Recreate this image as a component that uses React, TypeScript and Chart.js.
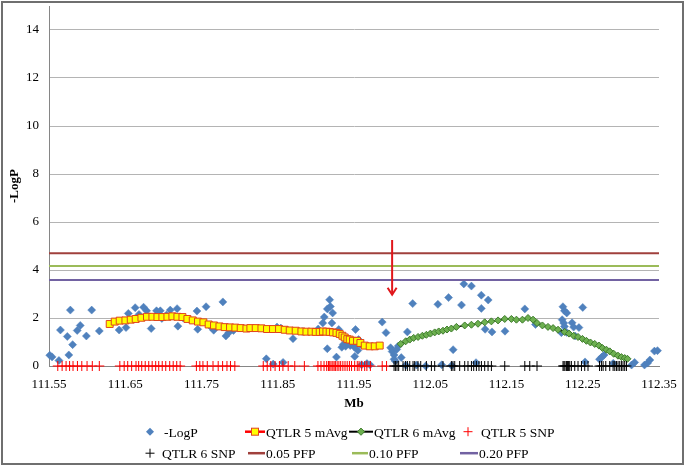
import { useEffect, useRef } from 'react';
import { Chart, registerables } from 'chart.js';

Chart.register(...registerables);

const FONT = '"Liberation Serif", "Times New Roman", serif';

// Axis definition
const xMin = 111.55;
const xMax = 112.35;
const yMin = 0;
const yMax = 15;
const xTickValues = [111.55, 111.65, 111.75, 111.85, 111.95, 112.05, 112.15, 112.25, 112.35];
const xTickLabels = ['111.55', '111.65', '111.75', '111.85', '111.95', '112.05', '112.15', '112.25', '112.35'];
const yTickValues = [0, 2, 4, 6, 8, 10, 12, 14];
const yTickLabels = ['0', '2', '4', '6', '8', '10', '12', '14'];

const seriesNames = ['-LogP', 'QTLR 5 mAvg', 'QTLR 6 mAvg', 'QTLR 5 SNP', 'QTLR 6 SNP', '0.05 PFP', '0.10 PFP', '0.20 PFP'];

// -LogP scatter
const logPMb = [
  111.551, 111.554, 111.563, 111.565, 111.574, 111.576, 111.578, 111.581, 111.587, 111.591,
  111.599, 111.606, 111.616, 111.642, 111.651, 111.654, 111.663, 111.668, 111.674, 111.678,
  111.684, 111.691, 111.696, 111.698, 111.704, 111.709, 111.718, 111.719, 111.726, 111.744,
  111.745, 111.756, 111.762, 111.766, 111.778, 111.782, 111.786, 111.792, 111.835, 111.844,
  111.849, 111.854, 111.857, 111.870, 111.882, 111.903, 111.909, 111.911, 111.915, 111.918,
  111.919, 111.922, 111.915, 111.921, 111.927, 111.930, 111.934, 111.936, 111.939, 111.942,
  111.945, 111.948, 111.950, 111.951, 111.952, 111.955, 111.956, 111.958, 111.960, 111.967,
  111.971, 111.987, 111.992, 111.998, 112.000, 112.0025, 112.0025, 112.004, 112.006, 112.008,
  112.012, 112.020, 112.027, 112.018, 112.032, 112.044, 112.060, 112.065, 112.074, 112.078,
  112.080, 112.091, 112.094, 112.104, 112.110, 112.117, 112.117, 112.126, 112.122, 112.131,
  112.148, 112.174, 112.188, 112.222, 112.223, 112.224, 112.225, 112.226, 112.226, 112.229,
  112.229, 112.236, 112.238, 112.240, 112.245, 112.250, 112.253, 112.272, 112.275, 112.278,
  112.290, 112.314, 112.318, 112.331, 112.335, 112.338, 112.344, 112.348,
];
const logPValue = [
  0.45, 0.38, 0.23, 1.50, 1.23, 0.46, 2.33, 0.89, 1.48, 1.69,
  1.25, 2.33, 1.46, 1.50, 1.60, 2.19, 2.43, 2.15, 2.45, 2.30,
  1.56, 2.30, 2.30, 1.98, 2.12, 2.33, 2.39, 1.66, 2.00, 2.29,
  1.53, 2.47, 1.64, 1.49, 2.67, 1.25, 1.40, 1.48, 0.30, 0.08,
  1.62, 1.58, 0.15, 1.14, 1.44, 1.54, 1.79, 2.04, 2.38, 2.76,
  2.48, 2.21, 0.72, 1.79, 0.37, 1.52, 0.78, 0.90, 0.82, 0.95,
  0.85, 1.05, 0.80, 0.40, 1.52, 0.65, 1.10, 0.90, 0.05, 0.10,
  0.05, 1.83, 1.39, 0.76, 0.60, 0.46, 0.28, 0.21, 0.69, 0.83,
  0.35, 1.42, 2.60, 0.03, 0.04, 0.00, 2.57, 0.05, 2.85, 0.02,
  0.68, 2.54, 3.42, 3.33, 0.14, 2.95, 2.40, 2.75, 1.53, 1.42,
  1.45, 2.38, 1.73, 1.39, 1.93, 2.47, 1.79, 2.30, 1.65, 2.21,
  1.40, 1.80, 1.62, 1.25, 1.60, 2.44, 0.17, 0.28, 0.37, 0.46,
  0.11, 0.04, 0.15, 0.04, 0.12, 0.25, 0.62, 0.64,
];

// QTLR 5 moving average
const qtlr5Mb = [
  111.6296, 111.6362, 111.6427, 111.6502, 111.6572, 111.6637, 111.6712, 111.6785, 111.6856, 111.6922,
  111.6987, 111.7053, 111.7118, 111.7184, 111.7250, 111.7315, 111.7385, 111.7454, 111.7525, 111.7594,
  111.7664, 111.7735, 111.7804, 111.7874, 111.7944, 111.8014, 111.8089, 111.8141, 111.8211, 111.8286,
  111.8359, 111.8438, 111.8517, 111.8591, 111.8657, 111.8735, 111.8810, 111.8876, 111.8941, 111.8998,
  111.9050, 111.9094, 111.9138, 111.9181, 111.9225, 111.9270, 111.9313, 111.9348, 111.9378, 111.9413,
  111.9444, 111.9487, 111.9540, 111.9584, 111.9641, 111.9706, 111.9772, 111.9837,
];
const qtlr5Avg = [
  1.75, 1.85, 1.89, 1.90, 1.93, 1.96, 2.01, 2.05, 2.05, 2.04,
  2.04, 2.05, 2.07, 2.05, 2.04, 1.96, 1.90, 1.85, 1.82, 1.73,
  1.69, 1.65, 1.62, 1.61, 1.60, 1.58, 1.56, 1.58, 1.58, 1.57,
  1.54, 1.54, 1.54, 1.51, 1.48, 1.47, 1.44, 1.43, 1.43, 1.42,
  1.42, 1.44, 1.43, 1.42, 1.40, 1.38, 1.33, 1.26, 1.19, 1.12,
  1.10, 1.05, 1.05, 0.96, 0.85, 0.82, 0.82, 0.85,
];

// QTLR 6 moving average
const qtlr6Mb = [
  112.0113, 112.0178, 112.0231, 112.0283, 112.0340, 112.0397, 112.0449, 112.0502, 112.0558, 112.0611,
  112.0667, 112.0720, 112.0777, 112.0843, 112.0952, 112.1040, 112.1126, 112.1214, 112.1302, 112.1389,
  112.1477, 112.1564, 112.1630, 112.1709, 112.1782, 112.1848, 112.1900, 112.1971, 112.2044, 112.2111,
  112.2176, 112.2263, 112.2320, 112.2381, 112.2438, 112.2496, 112.2548, 112.2601, 112.2657, 112.2713,
  112.2758, 112.2810, 112.2854, 112.2906, 112.2962, 112.3007, 112.3050, 112.3086,
];
const qtlr6Avg = [
  0.92, 1.03, 1.10, 1.17, 1.21, 1.26, 1.30, 1.35, 1.40, 1.44,
  1.47, 1.52, 1.56, 1.63, 1.69, 1.72, 1.76, 1.82, 1.86, 1.90,
  1.96, 1.96, 1.93, 1.93, 2.00, 1.93, 1.79, 1.69, 1.63, 1.58,
  1.51, 1.42, 1.35, 1.26, 1.21, 1.13, 1.05, 0.98, 0.92, 0.85,
  0.75, 0.68, 0.61, 0.51, 0.43, 0.37, 0.33, 0.30,
];

// SNP positions (plotted at -LogP = 0)
const snpLevel = 0;
const qtlr5SnpMb = [
  111.5615, 111.5672, 111.5724, 111.5770, 111.5815, 111.5873, 111.5930, 111.5999, 111.6068, 111.6160,
  111.6429, 111.6486, 111.6532, 111.6584, 111.6641, 111.6676, 111.6716, 111.6762, 111.6808, 111.6853,
  111.6899, 111.6939, 111.6985, 111.7031, 111.7083, 111.7129, 111.7175, 111.7220, 111.7433, 111.7478,
  111.7519, 111.7576, 111.7651, 111.7719, 111.7777, 111.7834, 111.7880, 111.7937, 111.8310, 111.8362,
  111.8408, 111.8465, 111.8522, 111.8568, 111.8637, 111.8723, 111.8849, 111.9027, 111.9067, 111.9107,
  111.9142, 111.9165, 111.9182, 111.9199, 111.9222, 111.9239, 111.9256, 111.9279, 111.9302, 111.9325,
  111.9354, 111.9382, 111.9411, 111.9440, 111.9468, 111.9509, 111.9543, 111.9566, 111.9600, 111.9640,
  111.9669, 111.9715, 111.9870, 111.9927,
];
const qtlr6SnpMb = [
  112.0025, 112.0043, 112.0064, 112.0086, 112.0143, 112.0174, 112.0200, 112.0231, 112.0274, 112.0296,
  112.0339, 112.0375, 112.0449, 112.0515, 112.0558, 112.0667, 112.0777, 112.0798, 112.0821, 112.0886,
  112.0952, 112.0995, 112.1040, 112.1070, 112.1105, 112.1139, 112.1171, 112.1214, 112.1258, 112.1302,
  112.1477, 112.1740, 112.1805, 112.1900, 112.2241, 112.2254, 112.2267, 112.2286, 112.2299, 112.2312,
  112.2329, 112.2351, 112.2395, 112.2438, 112.2483, 112.2526, 112.2569, 112.2720, 112.2745, 112.2767,
  112.2802, 112.2854, 112.2898, 112.2920, 112.2942, 112.2963, 112.2985, 112.3007, 112.3028, 112.3050,
  112.3073,
];

// Significance thresholds
const pfpLevels = [4.70, 4.17, 3.58];

// Red arrow marking position
const arrowMb = 112.0;
const arrowFrom = 5.25;
const arrowTo = 2.97;

const C = {
  logP: '#4F81BD',
  q5Line: '#FF0000',
  q5Fill: '#FFFF00',
  q5Edge: '#E0441C',
  q6Line: '#000000',
  q6Fill: '#6DB050',
  q6Edge: '#3E7B2C',
  snp5: '#FF0000',
  snp6: '#000000',
  pfp: ['#A0403C', '#9BBB59', '#7262A2'],
  arrow: '#E0161B',
};

const toPts = (xs: number[], ys: number[]) => xs.map((x, i) => ({ x, y: ys[i] }));
const toLevel = (xs: number[], level: number) => xs.map((x) => ({ x, y: level }));

function diamond(ctx: CanvasRenderingContext2D, x: number, y: number, r: number) {
  ctx.beginPath();
  ctx.moveTo(x - r, y);
  ctx.lineTo(x, y - r);
  ctx.lineTo(x + r, y);
  ctx.lineTo(x, y + r);
  ctx.closePath();
}

const legendPlugin = {
  id: 'excelLegend',
  afterDraw(chart: any) {
    const ctx: CanvasRenderingContext2D = chart.ctx;
    ctx.save();
    ctx.font = `13.5px ${FONT}`;
    ctx.fillStyle = '#000';
    ctx.textAlign = 'left';
    ctx.textBaseline = 'alphabetic';
    const r1 = 431.7;
    const r2 = 453.2;
    const b1 = 436.6;
    const b2 = 458.1;

    // -LogP
    ctx.fillStyle = C.logP;
    diamond(ctx, 150, r1, 4);
    ctx.fill();
    ctx.fillStyle = '#000';
    ctx.fillText(seriesNames[0], 164, b1);

    // QTLR 5 mAvg
    ctx.strokeStyle = C.q5Line;
    ctx.lineWidth = 2.5;
    ctx.beginPath();
    ctx.moveTo(245, r1);
    ctx.lineTo(265, r1);
    ctx.stroke();
    ctx.fillStyle = C.q5Fill;
    ctx.fillRect(251.5, r1 - 3.5, 7, 7);
    ctx.strokeStyle = C.q5Edge;
    ctx.lineWidth = 1;
    ctx.strokeRect(251.5, r1 - 3.5, 7, 7);
    ctx.fillStyle = '#000';
    ctx.fillText(seriesNames[1], 266, b1);

    // QTLR 6 mAvg
    ctx.strokeStyle = C.q6Line;
    ctx.lineWidth = 2;
    ctx.beginPath();
    ctx.moveTo(349, r1);
    ctx.lineTo(373, r1);
    ctx.stroke();
    ctx.fillStyle = C.q6Fill;
    diamond(ctx, 361, r1, 3.6);
    ctx.fill();
    ctx.strokeStyle = C.q6Edge;
    ctx.lineWidth = 1;
    ctx.stroke();
    ctx.fillStyle = '#000';
    ctx.fillText(seriesNames[2], 374, b1);

    // QTLR 5 SNP
    ctx.strokeStyle = C.snp5;
    ctx.lineWidth = 1;
    ctx.beginPath();
    ctx.moveTo(468, r1 - 4.5);
    ctx.lineTo(468, r1 + 4.5);
    ctx.moveTo(463.5, r1);
    ctx.lineTo(472.5, r1);
    ctx.stroke();
    ctx.fillText(seriesNames[3], 481, b1);

    // QTLR 6 SNP
    ctx.strokeStyle = C.snp6;
    ctx.beginPath();
    ctx.moveTo(150, r2 - 4.5);
    ctx.lineTo(150, r2 + 4.5);
    ctx.moveTo(145.5, r2);
    ctx.lineTo(154.5, r2);
    ctx.stroke();
    ctx.fillText(seriesNames[4], 162, b2);

    const pfpItems = [
      { x0: 248, x1: 265, tx: 266 },
      { x0: 352, x1: 368, tx: 369 },
      { x0: 460, x1: 478, tx: 479 },
    ];
    pfpItems.forEach((it, i) => {
      ctx.strokeStyle = C.pfp[i];
      ctx.lineWidth = 2.5;
      ctx.beginPath();
      ctx.moveTo(it.x0, r2);
      ctx.lineTo(it.x1, r2);
      ctx.stroke();
      ctx.fillText(seriesNames[5 + i], it.tx, b2);
    });

    // outer frame
    ctx.strokeStyle = '#6f6f6f';
    ctx.lineWidth = 2;
    ctx.strokeRect(2, 2, 681, 462);
    ctx.restore();
  },
};

const arrowPlugin = {
  id: 'arrowMark',
  afterDatasetsDraw(chart: any) {
    const ctx: CanvasRenderingContext2D = chart.ctx;
    const xs = chart.scales.x;
    const ys = chart.scales.y;
    const px = xs.getPixelForValue(arrowMb);
    const top = ys.getPixelForValue(arrowFrom);
    const tip = ys.getPixelForValue(arrowTo);
    ctx.save();
    ctx.strokeStyle = C.arrow;
    ctx.lineWidth = 2;
    ctx.beginPath();
    ctx.moveTo(px, top);
    ctx.lineTo(px, tip);
    ctx.stroke();
    ctx.beginPath();
    ctx.moveTo(px - 4.5, tip - 7);
    ctx.lineTo(px, tip);
    ctx.lineTo(px + 4.5, tip - 7);
    ctx.stroke();
    ctx.restore();
  },
};

export default function App() {
  const ref = useRef<HTMLCanvasElement>(null);

  useEffect(() => {
    const canvas = ref.current;
    if (!canvas) return;
    const n = 8;
    const chart = new Chart(canvas, {
      type: 'scatter',
      data: {
        datasets: [
          {
            label: seriesNames[0],
            data: toPts(logPMb, logPValue),
            pointStyle: 'rectRot',
            pointRadius: 4,
            pointBackgroundColor: C.logP,
            pointBorderColor: C.logP,
            pointBorderWidth: 0.5,
            showLine: false,
            clip: false,
            order: n,
          },
          {
            label: seriesNames[1],
            data: toPts(qtlr5Mb, qtlr5Avg),
            showLine: true,
            borderColor: C.q5Line,
            borderWidth: 2,
            pointStyle: 'rect',
            pointRadius: 4.9,
            pointBackgroundColor: C.q5Fill,
            pointBorderColor: C.q5Edge,
            pointBorderWidth: 1,
            clip: false,
            order: n - 1,
          },
          {
            label: seriesNames[2],
            data: toPts(qtlr6Mb, qtlr6Avg),
            showLine: true,
            borderColor: C.q6Line,
            borderWidth: 1.5,
            pointStyle: 'rectRot',
            pointRadius: 3.5,
            pointBackgroundColor: C.q6Fill,
            pointBorderColor: C.q6Edge,
            pointBorderWidth: 1,
            clip: false,
            order: n - 2,
          },
          {
            label: seriesNames[3],
            data: toLevel(qtlr5SnpMb, snpLevel),
            showLine: false,
            pointStyle: 'cross',
            pointRadius: 5,
            pointBorderColor: C.snp5,
            pointBackgroundColor: C.snp5,
            pointBorderWidth: 1,
            clip: false,
            order: n - 3,
          },
          {
            label: seriesNames[4],
            data: toLevel(qtlr6SnpMb, snpLevel),
            showLine: false,
            pointStyle: 'cross',
            pointRadius: 5,
            pointBorderColor: C.snp6,
            pointBackgroundColor: C.snp6,
            pointBorderWidth: 1,
            clip: false,
            order: n - 4,
          },
          ...pfpLevels.map((lvl, i) => ({
            label: seriesNames[5 + i],
            data: toLevel([xMin, xMax], lvl),
            showLine: true,
            borderColor: C.pfp[i],
            borderWidth: 2,
            pointRadius: 0,
            order: n - 5 - i,
          })),
        ],
      },
      options: {
        animation: false,
        responsive: false,
        maintainAspectRatio: false,
        devicePixelRatio: 1,
        layout: { padding: { left: 0, right: 26, top: 6, bottom: 52 } },
        plugins: {
          legend: { display: false },
          tooltip: { enabled: false },
        },
        scales: {
          x: {
            type: 'linear',
            min: xMin,
            max: xMax,
            afterBuildTicks: (s: any) => {
              s.ticks = xTickValues.map((v) => ({ value: v }));
            },
            afterFit: (s: any) => {
              s.height = 48;
              s.paddingLeft = 0;
              s.paddingRight = 0;
            },
            ticks: {
              autoSkip: false,
              maxRotation: 0,
              padding: 11,
              color: '#000',
              font: { family: FONT, size: 13 },
              callback: (_v: any, i: number) => xTickLabels[i],
            },
            grid: { display: false, drawTicks: false },
            border: { display: true, color: '#868686', width: 1 },
            title: {
              display: true,
              text: 'Mb',
              color: '#000',
              font: { family: FONT, size: 13, weight: 'bold' },
              padding: { top: 0, bottom: 3 },
            },
          },
          y: {
            type: 'linear',
            min: yMin,
            max: yMax,
            afterBuildTicks: (s: any) => {
              s.ticks = yTickValues.map((v) => ({ value: v }));
            },
            afterFit: (s: any) => {
              s.width = 49;
              s.paddingTop = 0;
              s.paddingBottom = 0;
            },
            ticks: {
              padding: 10,
              color: '#000',
              font: { family: FONT, size: 13 },
              callback: (_v: any, i: number) => yTickLabels[i],
            },
            grid: { color: '#b4b4b4', lineWidth: 1, drawTicks: false },
            border: { display: true, color: '#868686', width: 1 },
            title: {
              display: true,
              text: '-LogP',
              color: '#000',
              font: { family: FONT, size: 13, weight: 'bold' },
              padding: { top: 7, bottom: 0 },
            },
          },
        },
      },
      plugins: [arrowPlugin, legendPlugin],
    } as any);
    return () => chart.destroy();
  }, []);

  return (
    <div style={{ position: 'fixed', left: 0, top: 0, width: 685, height: 466, background: '#fff' }}>
      <canvas ref={ref} width={685} height={466} style={{ display: 'block', width: 685, height: 466 }} />
    </div>
  );
}
